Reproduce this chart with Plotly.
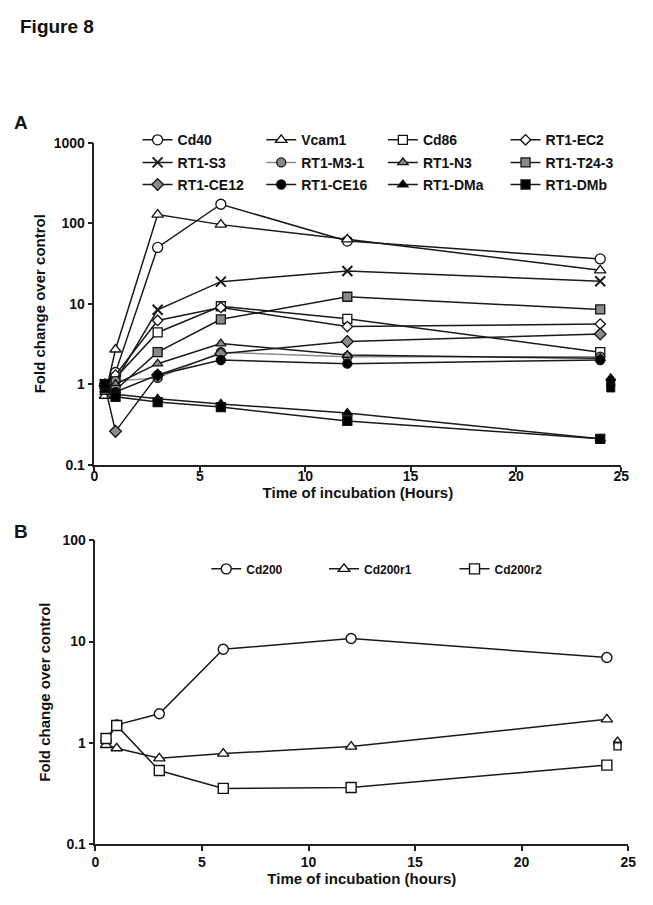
import plotly.graph_objects as go

# ---------------- data ----------------
time_a = [0.5, 1, 3, 6, 12, 24]
cd40 = [1.0, 1.4, 50, 172, 60, 36]
vcam1 = [0.72, 2.7, 128, 96, 63, 26]
cd86 = [1.0, 1.2, 4.4, 9.3, 6.5, 2.5]
rt1_ec2 = [1.0, 1.3, 6.2, 9.0, 5.2, 5.6]
rt1_s3 = [1.0, 1.1, 8.4, 18.8, 25.5, 19.0]
rt1_m3_1 = [1.0, 1.1, 1.2, 2.5, 2.2, 2.2]
rt1_n3 = [0.8, 1.0, 1.8, 3.2, 2.3, 2.1]
rt1_t24_3 = [0.9, 0.85, 2.5, 6.4, 12.2, 8.5]
rt1_ce12 = [0.95, 0.26, 1.3, 2.4, 3.4, 4.2]
rt1_ce16 = [0.9, 0.8, 1.3, 2.0, 1.8, 2.0]
rt1_dma = [0.85, 0.75, 0.66, 0.57, 0.44, 0.21]
rt1_dmb = [1.0, 0.7, 0.6, 0.52, 0.35, 0.21]

extra_time = [24.5]
extra_a_dma = [1.2]
extra_a_dmb = [1.05, 0.9]

time_b = [0.5, 1, 3, 6, 12, 24]
cd200 = [1.04, 1.5, 1.93, 8.4, 10.7, 6.95]
cd200r1 = [0.95, 0.88, 0.70, 0.78, 0.915, 1.7]
cd200r2 = [1.1, 1.48, 0.53, 0.353, 0.36, 0.60]
extra_b_cd200 = [0.98]
extra_b_cd200r1 = [1.05]
extra_b_cd200r2 = [0.92]

ticks_x = [0, 5, 10, 15, 20, 25]
ticks_y_a = [0.1, 1, 10, 100, 1000]
ticks_y_b = [0.1, 1, 10, 100]

# ---------------- styling ----------------
FONT = "Liberation Sans, Arial, sans-serif"
LINE = "#1a1a1a"
GREY = "#8a8a8a"
WHITE = "#ffffff"

series_a = [
    ("Cd40", cd40, "circle", WHITE, 10, LINE),
    ("Vcam1", vcam1, "triangle-up", WHITE, 10, LINE),
    ("Cd86", cd86, "square", WHITE, 9, LINE),
    ("RT1-EC2", rt1_ec2, "diamond", WHITE, 8, LINE),
    ("RT1-S3", rt1_s3, "x-thin", LINE, 10, LINE),
    ("RT1-M3-1", rt1_m3_1, "circle", GREY, 9, GREY),
    ("RT1-N3", rt1_n3, "triangle-up", GREY, 9, LINE),
    ("RT1-T24-3", rt1_t24_3, "square", GREY, 9, LINE),
    ("RT1-CE12", rt1_ce12, "diamond", GREY, 9, LINE),
    ("RT1-CE16", rt1_ce16, "circle", "#000000", 9, LINE),
    ("RT1-DMa", rt1_dma, "triangle-up", "#000000", 9, LINE),
    ("RT1-DMb", rt1_dmb, "square", "#000000", 9, LINE),
]

# page geometry: the page body keeps its default 8px margin
LEFT_OFF, TOP_OFF = 8, 8
W, H = 653 - 2 * LEFT_OFF, 905 - 2 * TOP_OFF

def px_x(p):
    return (p - LEFT_OFF) / W

def px_y(p):
    return 1 - (p - TOP_OFF) / H

def legend_key(i):
    return "legend" if i == 0 else f"legend{i + 1}"

# legend entry positions (page px): text start x, row centre y
leg_cols_a = [177, 303, 427, 552]
leg_rows_a = [134.5, 157.5, 180]
leg_cols_b = [247, 367, 500]
leg_row_b = 571

fig = go.Figure()
legends = {}

for i, (name, vals, sym, fill, size, lc) in enumerate(series_a):
    if sym == "x-thin":
        marker = dict(symbol=sym, size=size, color=LINE,
                      line=dict(color=LINE, width=2))
    else:
        marker = dict(symbol=sym, size=size, color=fill,
                      line=dict(color="#111111", width=1.3))
    key = legend_key(i)
    fig.add_trace(go.Scatter(
        x=time_a, y=vals, name=name, mode="lines+markers",
        line=dict(color=lc, width=1.5), marker=marker,
        xaxis="x", yaxis="y", legend=key))
    legends[key] = dict(
        x=px_x(leg_cols_a[i % 4] - 41), y=px_y(leg_rows_a[i // 4]),
        xanchor="left", yanchor="middle",
        font=dict(family=FONT, size=14, weight="bold"),
        bgcolor="rgba(0,0,0,0)")

fig.add_trace(go.Scatter(
    x=extra_time, y=extra_a_dma, mode="markers", showlegend=False,
    marker=dict(symbol="triangle-up", size=9, color="#000000",
                line=dict(color="#111111", width=1)),
    xaxis="x", yaxis="y"))
fig.add_trace(go.Scatter(
    x=extra_time * len(extra_a_dmb), y=extra_a_dmb, mode="markers",
    showlegend=False,
    marker=dict(symbol="square", size=8, color="#000000",
                line=dict(color="#111111", width=1)),
    xaxis="x", yaxis="y"))

series_b = [
    ("Cd200", cd200, "circle", extra_b_cd200),
    ("Cd200r1", cd200r1, "triangle-up", extra_b_cd200r1),
    ("Cd200r2", cd200r2, "square", extra_b_cd200r2),
]
for j, (name, vals, sym, extra) in enumerate(series_b):
    key = legend_key(len(series_a) + j)
    fig.add_trace(go.Scatter(
        x=time_b, y=vals, name=name, mode="lines+markers",
        line=dict(color=LINE, width=1.5),
        marker=dict(symbol=sym, size=10, color=WHITE,
                    line=dict(color="#111111", width=1.4)),
        xaxis="x2", yaxis="y2", legend=key))
    legends[key] = dict(
        x=px_x(leg_cols_b[j] - 41), y=px_y(leg_row_b),
        xanchor="left", yanchor="middle",
        font=dict(family=FONT, size=12, weight="bold"),
        bgcolor="rgba(0,0,0,0)")
for name, vals, sym, extra in series_b:
    fig.add_trace(go.Scatter(
        x=extra_time, y=extra, mode="markers", showlegend=False,
        marker=dict(symbol=sym, size=7, color=WHITE,
                    line=dict(color="#111111", width=1.4)),
        xaxis="x2", yaxis="y2"))

axis_common = dict(
    showline=True, linecolor="#222222", linewidth=1.5,
    ticks="outside", ticklen=5, tickwidth=1.5, tickcolor="#222222",
    showgrid=False, zeroline=False, mirror=False,
    tickfont=dict(family=FONT, size=14, color="#111111", weight="bold"),
)
title_font = dict(family=FONT, size=15, weight="bold")

fig.update_layout(
    width=W, height=H,
    margin=dict(l=0, r=0, t=0, b=0),
    paper_bgcolor="white", plot_bgcolor="white",
    font=dict(family=FONT, color="#111111"),
    xaxis=dict(domain=[px_x(92), px_x(629)], range=[0, 25],
               tickvals=ticks_x, anchor="y", ticklabelstandoff=-7,
               title=dict(text="Time of incubation (Hours)",
                          font=title_font, standoff=0),
               **axis_common),
    yaxis=dict(domain=[px_y(465), px_y(137)], type="log", range=[-1, 3],
               tickvals=ticks_y_a, ticktext=[str(v) for v in ticks_y_a],
               anchor="x",
               title=dict(text="Fold change over control",
                          font=title_font, standoff=4),
               **axis_common),
    xaxis2=dict(domain=[px_x(93), px_x(636)], range=[0, 25],
                tickvals=ticks_x, anchor="y2",
                title=dict(text="Time of incubation (hours)",
                           font=title_font, standoff=0),
                **axis_common),
    yaxis2=dict(domain=[px_y(851), px_y(542)], type="log", range=[-1, 2],
                tickvals=ticks_y_b, ticktext=[str(v) for v in ticks_y_b],
                anchor="x2",
                title=dict(text="Fold change over control",
                           font=title_font, standoff=8),
                **axis_common),
    showlegend=True,
    annotations=[
        dict(text="Figure 8", x=px_x(14), y=px_y(19), xref="paper",
             yref="paper", xanchor="left", yanchor="middle",
             showarrow=False,
             font=dict(family=FONT, size=19, weight="bold")),
        dict(text="A", x=px_x(8), y=px_y(116), xref="paper",
             yref="paper", xanchor="left", yanchor="middle",
             showarrow=False,
             font=dict(family=FONT, size=19, weight="bold")),
        dict(text="B", x=px_x(8), y=px_y(533), xref="paper",
             yref="paper", xanchor="left", yanchor="middle",
             showarrow=False,
             font=dict(family=FONT, size=19, weight="bold")),
    ],
    **legends,
)

fig.write_html("out.html")
